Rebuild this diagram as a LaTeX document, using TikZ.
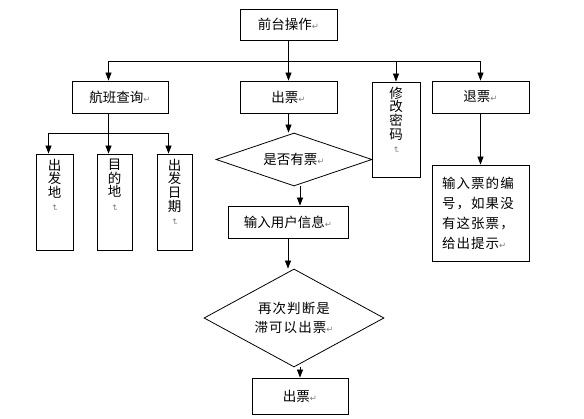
\documentclass[tikz,border=0pt]{standalone}
\usepackage{fontspec}
\usepackage{graphicx}
\newfontfamily\cjk{Noto Sans CJK SC}
\newfontfamily\cjkwide[LetterSpace=8]{Noto Sans CJK SC}
\newfontfamily\symfont{DejaVu Sans}
\usetikzlibrary{shapes.geometric,arrows.meta}
\newcommand\parmk{{\symfont\color{gray}\fontsize{8.5}{8.5}\selectfont ↵}}
\newcommand\vparmk{\rotatebox[origin=c]{-90}{\parmk}}
\newcommand\vstack[2]{\parbox[c][#1][t]{16pt}{\centering\fontsize{13.5}{13.6}\selectfont #2}}

\begin{document}
\begin{tikzpicture}
        [x=1pt,y=-1pt,line width=0.8pt,
         every node/.style={font=\cjk\fontsize{13.5}{16}\selectfont},
         opbox/.style={draw,rectangle,inner sep=0pt},
         vbox/.style={draw,rectangle,inner sep=0pt},
         choice/.style={draw,diamond,aspect=3,inner sep=0pt},
         arr/.style={-{Triangle[width=6pt,length=8pt]}}]
        \useasboundingbox (0,0) rectangle (584,419);
        % top row
        \node[opbox,minimum width=97pt,minimum height=31pt] (front) at (288.5,24.5) {前台操作\parmk};
        \node[opbox,minimum width=96pt,minimum height=32pt] (query) at (120,97) {航班查询\parmk};
        \node[opbox,minimum width=97pt,minimum height=32pt] (ticket) at (288.5,97) {出票\parmk};
        \node[vbox,minimum width=48pt,minimum height=95pt] (pwd) at (396,129.5) {\vstack{85pt}{修\\改\\密\\码\\\vparmk}};
        \node[opbox,minimum width=97pt,minimum height=32pt] (refund) at (480.5,97) {退票\parmk};
        % query details
        \node[vbox,minimum width=37pt,minimum height=96pt] (orig) at (54.5,202) {\vstack{86pt}{出\\发\\地\\\vparmk}};
        \node[vbox,minimum width=35pt,minimum height=96pt] (dest) at (114.5,202) {\vstack{86pt}{目\\的\\地\\\vparmk}};
        \node[vbox,minimum width=35pt,minimum height=96pt] (dates) at (174.5,202) {\vstack{86pt}{出\\发\\日\\期\\\vparmk}};
        % ticket flow
        \node[choice,minimum width=156pt,minimum height=53pt] (d1) at (294,159.5) {是否有票\parmk};
        \node[opbox,minimum width=120pt,minimum height=32pt] (info) at (288,222) {输入用户信息\parmk};
        \node[choice,minimum width=180pt,minimum height=98pt,align=center,
              font=\cjkwide\fontsize{13.5}{19}\selectfont] (d2) at (294,318) {再次判断是\\滞可以出票\parmk};
        \node[opbox,minimum width=96pt,minimum height=36pt] (final) at (300,396) {出票\parmk};
        % refund detail
        \node[opbox,minimum width=97pt,minimum height=96pt,text width=77pt,align=left,
              font=\cjkwide\fontsize{13.5}{20}\selectfont] (refundinfo) at (480.5,213)
              {输入票的编\\号，如果没\\有这张票，\\给出提示\parmk};
        % connectors
        \coordinate (busL) at (108.5,61);
        \coordinate (busR) at (480.5,61);
        \coordinate (qbus) at (108.5,133);
        \draw (front) -- (front |- busL);
        \draw (busL) -- (busR);
        \draw[arr] (busL) -- ([xshift=-11.5pt]query.north);
        \draw[arr] (front |- busL) -- (ticket);
        \foreach \n in {pwd,refund}
          \draw[arr] (\n.north |- busL) -- (\n.north);
        \draw (query.south -| qbus) -- (qbus);
        \draw ([xshift=-6pt]orig.north |- qbus) -- ([xshift=-6pt]dates.north |- qbus);
        \foreach \n in {orig,dest,dates}
          \draw[arr] ([xshift=-6pt]\n.north |- qbus) -- ([xshift=-6pt]\n.north);
        \draw[arr] (ticket) -- (ticket |- d1.north);
        \draw[arr] ([xshift=6pt]d1.south) -- ([xshift=12pt]info.north);
        \draw[arr] (info) -- (info |- d2.north);
        \draw[arr] ([xshift=6pt]d2.south) -- (final.north);
        \draw[arr] (refund) -- (refundinfo);
      \end{tikzpicture}
\end{document}
